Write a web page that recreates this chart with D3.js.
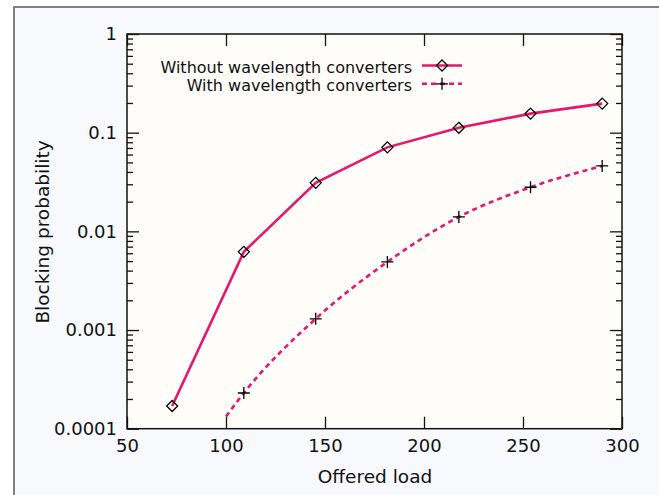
<!DOCTYPE html>
<html>
<head>
<meta charset="utf-8">
<script src="https://cdn.jsdelivr.net/npm/d3@7"></script>
<style>
  body { margin: 0; background: #fff; }
  svg { display: block; font-family: "DejaVu Sans", sans-serif; }
</style>
</head>
<body>
<svg width="659" height="495"></svg>
<script>
var svg = d3.select('svg');

// data
var loadsWithout = [72.8, 109, 145.3, 181.5, 217.6, 253.8, 290];
var probWithout = [0.00017, 0.0062, 0.031, 0.071, 0.112, 0.156, 0.197];
var loadsWith = [109, 145.3, 181.5, 217.6, 253.8, 290];
var probWith = [0.00023, 0.0013, 0.0049, 0.014, 0.028, 0.046];
// the dashed curve starts at load 100, no marker there
var curveLoads = [100].concat(loadsWith);
var curveProb = [0.000133].concat(probWith);
var xTicks = [50, 100, 150, 200, 250, 300];
var yTicks = [0.0001, 0.001, 0.01, 0.1, 1];
var yTickLabels = ['0.0001', '0.001', '0.01', '0.1', '1'];
var legendLabels = ['Without wavelength converters', 'With wavelength converters'];

var pink = '#e5176b';
var pL = 127, pR = 622, pT = 34, pB = 428.7;

// page frame
svg.append('rect')
    .attr('x', 14).attr('y', 7)
    .attr('width', 659).attr('height', 495)
    .attr('fill', '#f8f9fc')
    .attr('stroke', '#808080')
    .attr('stroke-width', 2);

svg.append('rect')
    .attr('x', pL).attr('y', pT)
    .attr('width', pR - pL).attr('height', pB - pT)
    .attr('fill', '#fefdfa');

var x = d3.scaleLinear().domain([50, 300]).range([pL, pR]);
var y = d3.scaleLog().domain([0.0001, 1]).range([pB, pT]);

var minors = [];
yTicks.slice(0, -1).forEach(function (d) {
    for (var k = 2; k < 10; k++) minors.push(d * k);
});

function styleAxis(g) {
    g.select('.domain').remove();
    g.selectAll('line').attr('stroke', '#111').attr('stroke-width', 1.3);
    g.selectAll('text').attr('fill', '#111').attr('font-size', 18)
        .attr('font-family', '"DejaVu Sans", sans-serif');
}

svg.append('g')
    .attr('transform', 'translate(0,' + pB + ')')
    .call(d3.axisBottom(x).tickValues(xTicks).tickSize(-12).tickPadding(11).tickFormat(d3.format('d')))
    .call(styleAxis);

svg.append('g')
    .attr('transform', 'translate(0,' + pT + ')')
    .call(d3.axisTop(x).tickValues(xTicks).tickSize(-12).tickFormat(''))
    .call(styleAxis);

svg.append('g')
    .attr('transform', 'translate(' + pL + ',0)')
    .call(d3.axisLeft(y).tickValues(yTicks).tickSize(-12).tickPadding(10)
        .tickFormat(function (d, i) { return yTickLabels[i]; }))
    .call(styleAxis);

svg.append('g')
    .attr('transform', 'translate(' + pL + ',0)')
    .call(d3.axisLeft(y).tickValues(minors).tickSize(-6).tickFormat(''))
    .call(styleAxis);

svg.append('g')
    .attr('transform', 'translate(' + pR + ',0)')
    .call(d3.axisRight(y).tickValues(yTicks).tickSize(-12).tickFormat(''))
    .call(styleAxis);

svg.append('g')
    .attr('transform', 'translate(' + pR + ',0)')
    .call(d3.axisRight(y).tickValues(minors).tickSize(-6).tickFormat(''))
    .call(styleAxis);

svg.append('rect')
    .attr('x', pL).attr('y', pT)
    .attr('width', pR - pL).attr('height', pB - pT)
    .attr('fill', 'none')
    .attr('stroke', '#111')
    .attr('stroke-width', 1.5);

// lines
var solid = d3.line()
    .x(function (d, i) { return x(loadsWithout[i]); })
    .y(function (d) { return y(d); });

svg.append('path')
    .attr('d', solid(probWithout))
    .attr('fill', 'none')
    .attr('stroke', pink)
    .attr('stroke-width', 2.6);

var dashed = d3.line()
    .curve(d3.curveMonotoneX)
    .x(function (d, i) { return x(curveLoads[i]); })
    .y(function (d) { return y(d); });

svg.append('path')
    .attr('d', dashed(curveProb))
    .attr('fill', 'none')
    .attr('stroke', pink)
    .attr('stroke-width', 2.6)
    .attr('stroke-dasharray', '5,4');

// markers
var diamond = 'M0,-5.5L5.5,0L0,5.5L-5.5,0Z';
var plus = 'M-6,0H6M0,-6V6';

svg.selectAll('.dia')
    .data(probWithout)
    .enter()
    .append('path')
    .attr('class', 'dia')
    .attr('d', diamond)
    .attr('transform', function (d, i) { return 'translate(' + x(loadsWithout[i]) + ',' + y(d) + ')'; })
    .attr('fill', 'none')
    .attr('stroke', '#000')
    .attr('stroke-width', 1.3);

svg.selectAll('.pls')
    .data(probWith)
    .enter()
    .append('path')
    .attr('class', 'pls')
    .attr('d', plus)
    .attr('transform', function (d, i) { return 'translate(' + x(loadsWith[i]) + ',' + y(d) + ')'; })
    .attr('fill', 'none')
    .attr('stroke', '#000')
    .attr('stroke-width', 1.3);

// legend
var legend = svg.append('g');
legendLabels.forEach(function (t, i) {
    var ly = 65.5 + i * 18.3;
    legend.append('text')
        .attr('x', 412).attr('y', ly + 7.5)
        .attr('text-anchor', 'end')
        .attr('font-size', 16)
        .attr('fill', '#111')
        .text(t);
    legend.append('line')
        .attr('x1', 422).attr('x2', 462)
        .attr('y1', ly).attr('y2', ly)
        .attr('stroke', pink)
        .attr('stroke-width', 2.6)
        .attr('stroke-dasharray', i === 1 ? '5,4' : null);
    legend.append('path')
        .attr('d', i === 0 ? diamond : plus)
        .attr('transform', 'translate(442,' + ly + ')')
        .attr('fill', 'none')
        .attr('stroke', '#000')
        .attr('stroke-width', 1.3);
});

// axis titles
svg.append('text')
    .attr('x', 375).attr('y', 483)
    .attr('text-anchor', 'middle')
    .attr('font-size', 18.5)
    .attr('fill', '#111')
    .text('Offered load');

svg.append('text')
    .attr('transform', 'translate(49,232) rotate(-90)')
    .attr('text-anchor', 'middle')
    .attr('font-size', 18.5)
    .attr('fill', '#111')
    .text('Blocking probability');
</script>
</body>
</html>
